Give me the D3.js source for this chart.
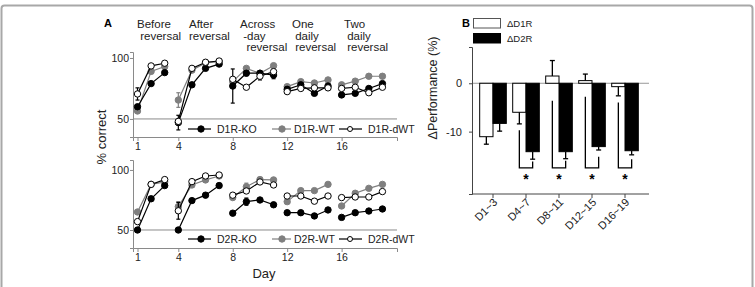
<!DOCTYPE html>
<html><head><meta charset="utf-8">
<script src="https://cdn.jsdelivr.net/npm/d3@7"></script>
<style>
body{margin:0;background:#fff;}
svg{font-family:"Liberation Sans",Arial,sans-serif;}
</style></head>
<body><svg id="c" width="755" height="287"></svg>
<script>
// ---------- Panel A data ----------
const days = [1,2,3,4,5,6,7,8,9,10,11,12,13,14,15,16,17,18,19];
const segments = [[1,3],[4,7],[8,11],[12,15],[16,19]];
const phaseLabels = [["Before"," reversal"],["After","reversal"],["Across"," -day","  reversal"],["One"," daily"," reversal"],["Two"," daily"," reversal"]];
const xTicksA = [1,4,8,12,16];
const yTicksA = [50,100];

const d1rKO  = [60,79,88, 47,78,91.5,95, 77,87.5,87.5,86, 74.3,78,71,77, 69.7,71,75,79];
const d1rWT  = [56.5,89,93, 65.5,90,96,97, 80.6,91.5,87.5,93.7, 76.5,80.6,79.5,82, 78,81,85,85];
const d1rDWT = [70.5,93.5,95.7, 48,91.5,96.5,97.5, 82.5,76,85,88.8, 72.4,75,75.5,75.5, 75,76,71.5,76];
const d1rKOErr  = [1.5,0,0, 6,0,0,0, 14,2,2,3, 0,1.5,1.5,0, 1.5,1.5,0,0];
const d1rWTErr  = [0,0,0, 6,0,0,0, 0,0,0,0, 0,0,0,0, 0,0,0,0];
const d1rDWTErr = [5,0,0, 0,0,0,0, 0,0,3,0, 0,0,0,0, 0,0,0,0];

const d2rKO  = [50,76,87, 50,74.5,79,87, 64,73.6,75,71, 64.4,64.4,61.7,66.7, 60.5,64.4,65.8,67.5];
const d2rWT  = [65,88,90, 69.5,87.5,91.7,95, 77,86,92,91.7, 73.6,82.8,82.8,88, 70,80.6,84.7,88];
const d2rDWT = [57,88,92, 66,90.3,95,95.8, 79,82.5,90,87.5, 78.3,78.3,74,78.3, 77,77.5,77.5,82];
const d2rKOErr  = [2,0,0, 2,0,0,0, 0,3,0,0, 0,0,0,0, 0,0,0,0];
const d2rWTErr  = [0,0,0, 4,0,0,0, 0,3,0,0, 0,0,0,0, 0,0,0,0];
const d2rDWTErr = [0,0,0, 7,0,0,0, 0,0,0,0, 0,0,0,0, 0,0,0,0];

// ---------- Panel B data ----------
const groups = ["D1~3","D4~7","D8~11","D12~15","D16~19"];
const d1rDelta = [-11.05,-6.0,1.5,0.55,-0.7];
const d1rDeltaErr = [1.55,2.4,3.2,1.35,1.9];
const d2rDelta = [-8.3,-14.15,-14.15,-13.1,-13.95];
const d2rDeltaErr = [1.6,1.55,1.45,0.7,0.85];
const sigLeftTop = [null,-9.7,-3.6,-2.8,-4.0];
const sigRightTop = [null,-16.2,-16.0,-15.2,-15.7];
const sigBottom = -17.5;
const starLevel = -19.6;
const yTicksB = [0,-10];

const svg = d3.select("#c");
svg.append("rect").attr("x",1.5).attr("y",5.5).attr("width",751).attr("height",300)
  .attr("rx",3).attr("fill","none").attr("stroke","#a8a8a8").attr("stroke-width",2);

const axisCol = "#8a8a8a";
const xA = d3.scaleLinear().domain([0.669,20.07]).range([133,397]);

svg.append("text").attr("x",108).attr("y",27).attr("text-anchor","middle")
  .attr("font-size",11).attr("font-weight","bold").text("A");
const phaseX = [137,189,240,292,344];
phaseLabels.forEach((lines,i)=>{
  lines.forEach((t,j)=>{
    svg.append("text").attr("x",phaseX[i]).attr("y",28+j*11.5)
      .attr("font-size",11.5).attr("fill","#222").style("white-space","pre").text(t);
  });
});

const seriesStyle = {
  WT:{fill:"#7f7f7f",stroke:"#7f7f7f",line:"#7f7f7f"},
  KO:{fill:"#000",stroke:"#000",line:"#000"},
  dWT:{fill:"#fff",stroke:"#000",line:"#000"}
};

function panelA(cfg){
  const y = d3.scaleLinear().domain(cfg.yDom).range(cfg.yRange);
  const g = svg.append("g");
  g.append("line").attr("x1",133).attr("x2",397).attr("y1",y(50)).attr("y2",y(50))
    .attr("stroke",axisCol).attr("stroke-width",1);
  const ya = g.append("g").attr("transform","translate(133,0)")
    .call(d3.axisLeft(y).tickValues(yTicksA).tickSizeOuter(0).tickSize(3));
  ya.select(".domain").attr("stroke",axisCol);
  ya.selectAll(".tick line").attr("stroke",axisCol);
  ya.selectAll(".tick text").attr("font-size",10.5).attr("fill","#222").attr("x",-4).attr("font-family","Liberation Sans, Arial, sans-serif");
  const xa = g.append("g").attr("transform",`translate(0,${cfg.yRange[0]})`)
    .call(d3.axisBottom(xA).tickValues(xTicksA).tickSizeOuter(0).tickSize(4));
  xa.select(".domain").attr("stroke",axisCol);
  xa.selectAll(".tick line").attr("stroke",axisCol);
  xa.selectAll(".tick text").attr("font-size",10.5).attr("fill","#222").attr("dy","0.6em").attr("font-family","Liberation Sans, Arial, sans-serif");

  const line = d3.line().x(d=>xA(d.day)).y(d=>y(d.v));
  const order = ["WT","KO","dWT"];
  order.forEach(k=>{
    const vals = cfg.series[k].vals, errs = cfg.series[k].err, st = seriesStyle[k];
    const pts = days.map((d,i)=>({day:d,v:vals[i],e:errs[i]}));
    segments.forEach(([a,b])=>{
      const seg = pts.filter(p=>p.day>=a&&p.day<=b);
      g.append("path").attr("d",line(seg)).attr("fill","none").attr("stroke",st.line).attr("stroke-width",1.2);
    });
    pts.filter(p=>p.e>0).forEach(p=>{
      const cx = xA(p.day);
      g.append("line").attr("x1",cx).attr("x2",cx).attr("y1",y(p.v-p.e)).attr("y2",y(p.v+p.e)).attr("stroke",st.line).attr("stroke-width",1.2);
      [p.v-p.e,p.v+p.e].forEach(vv=>g.append("line").attr("x1",cx-2).attr("x2",cx+2).attr("y1",y(vv)).attr("y2",y(vv)).attr("stroke",st.line).attr("stroke-width",1.2));
    });
    g.selectAll(null).data(pts).enter().append("circle")
      .attr("cx",d=>xA(d.day)).attr("cy",d=>y(d.v)).attr("r",3.2)
      .attr("fill",st.fill).attr("stroke",st.stroke).attr("stroke-width",1);
  });
  const ly = cfg.legendY;
  const leg = [
    {k:"KO",x1:188,x2:211,m:201,tx:217,t:cfg.prefix+"-KO"},
    {k:"WT",x1:272,x2:291,m:282,tx:294,t:cfg.prefix+"-WT"},
    {k:"dWT",x1:339,x2:362,m:350,tx:368,t:cfg.prefix+"-dWT"}
  ];
  leg.forEach(l=>{
    const st = seriesStyle[l.k];
    g.append("line").attr("x1",l.x1).attr("x2",l.x2).attr("y1",ly).attr("y2",ly).attr("stroke",st.line).attr("stroke-width",1.2);
    g.append("circle").attr("cx",l.m).attr("cy",ly).attr("r",l.k==="dWT"?2.5:3.2).attr("fill",st.fill).attr("stroke",st.stroke);
    g.append("text").attr("x",l.tx).attr("y",ly+3.8).attr("font-size",10.5).attr("fill","#222").text(l.t);
  });
}

panelA({yDom:[35.2,104.9],yRange:[137,52],legendY:129,prefix:"D1R",
  series:{KO:{vals:d1rKO,err:d1rKOErr},WT:{vals:d1rWT,err:d1rWTErr},dWT:{vals:d1rDWT,err:d1rDWTErr}}});
panelA({yDom:[35,108.3],yRange:[248,160],legendY:239,prefix:"D2R",
  series:{KO:{vals:d2rKO,err:d2rKOErr},WT:{vals:d2rWT,err:d2rWTErr},dWT:{vals:d2rDWT,err:d2rDWTErr}}});

svg.append("text").attr("transform","translate(106,137) rotate(-90)").attr("text-anchor","middle")
  .attr("font-size",13).attr("fill","#222").text("% correct");
svg.append("text").attr("x",264).attr("y",278).attr("text-anchor","middle")
  .attr("font-size",13).attr("fill","#222").text("Day");

// ---------- Panel B ----------
const bCol = "#444";
const yB = d3.scaleLinear().domain([-22.9,7.5]).range([194,47]);
const x0 = d3.scaleBand().domain(groups).range([476.5,641.5]).paddingInner(0).paddingOuter(0);
const x1 = d3.scaleBand().domain(["D1R","D2R"]).range([0,x0.bandwidth()]).paddingInner(0).paddingOuter(0.24);

svg.append("text").attr("x",466).attr("y",27).attr("text-anchor","middle")
  .attr("font-size",11).attr("font-weight","bold").text("B");

const gB = svg.append("g");
gB.append("line").attr("x1",472).attr("x2",649).attr("y1",yB(0)).attr("y2",yB(0)).attr("stroke","#999").attr("stroke-width",1);
const yaB = gB.append("g").attr("transform","translate(472,0)")
  .call(d3.axisLeft(yB).tickValues(yTicksB).tickFormat(d=>String(d)).tickSizeOuter(0).tickSize(3));
yaB.select(".domain").attr("stroke",bCol);
yaB.selectAll(".tick line").attr("stroke",bCol);
yaB.selectAll(".tick text").attr("font-size",11).attr("fill","#222").attr("x",-10).attr("font-family","Liberation Sans, Arial, sans-serif");
gB.append("line").attr("x1",472).attr("x2",649).attr("y1",194).attr("y2",194).attr("stroke",bCol);
groups.forEach(gname=>{
  const cx = x0(gname)+x0.bandwidth()/2;
  gB.append("line").attr("x1",cx).attr("x2",cx).attr("y1",194).attr("y2",198).attr("stroke",bCol);
  gB.append("text").attr("transform",`translate(${cx+5},${203}) rotate(-45)`).attr("text-anchor","end")
    .attr("font-size",11).attr("fill","#222").text(gname);
});

function bars(key,vals,errs,fill){
  vals.forEach((v,i)=>{
    const bx = x0(groups[i])+x1(key), w = x1.bandwidth();
    gB.append("rect").attr("x",bx).attr("width",w)
      .attr("y",yB(Math.max(0,v))).attr("height",Math.abs(yB(v)-yB(0)))
      .attr("fill",fill).attr("stroke","#000").attr("stroke-width",1);
    const cx = bx+w/2, ee = v>=0 ? v+errs[i] : v-errs[i];
    gB.append("line").attr("x1",cx).attr("x2",cx).attr("y1",yB(v)).attr("y2",yB(ee)).attr("stroke","#000").attr("stroke-width",1.3);
    gB.append("line").attr("x1",cx-2.5).attr("x2",cx+2.5).attr("y1",yB(ee)).attr("y2",yB(ee)).attr("stroke","#000").attr("stroke-width",1.3);
  });
}
bars("D1R",d1rDelta,d1rDeltaErr,"#fff");
bars("D2R",d2rDelta,d2rDeltaErr,"#000");

groups.forEach((gname,i)=>{
  if(sigLeftTop[i]===null) return;
  const lx = x0(gname)+x1("D1R")+x1.bandwidth()/2;
  const rx = x0(gname)+x1("D2R")+x1.bandwidth()/2;
  gB.append("path").attr("d",`M${lx},${yB(sigLeftTop[i])}V${yB(sigBottom)}H${rx}V${yB(sigRightTop[i])}`)
    .attr("fill","none").attr("stroke","#000").attr("stroke-width",1.3);
  gB.append("text").attr("x",(lx+rx)/2).attr("y",yB(starLevel)+6).attr("text-anchor","middle")
    .attr("font-size",14).attr("font-weight","bold").text("*");
});

gB.append("rect").attr("x",473.5).attr("y",18.5).attr("width",27).attr("height",9.5).attr("fill","#fff").attr("stroke","#555");
gB.append("rect").attr("x",473.5).attr("y",33.5).attr("width",27).attr("height",9.5).attr("fill","#000").attr("stroke","#000");
gB.append("text").attr("x",507).attr("y",26.5).attr("font-size",9.5).attr("fill","#222").text("ΔD1R");
gB.append("text").attr("x",507).attr("y",41.5).attr("font-size",9.5).attr("fill","#222").text("ΔD2R");

svg.append("text").attr("transform","translate(437,88) rotate(-90)").attr("text-anchor","middle")
  .attr("font-size",12.5).attr("fill","#222").text("ΔPerformance (%)");
</script></body></html>
